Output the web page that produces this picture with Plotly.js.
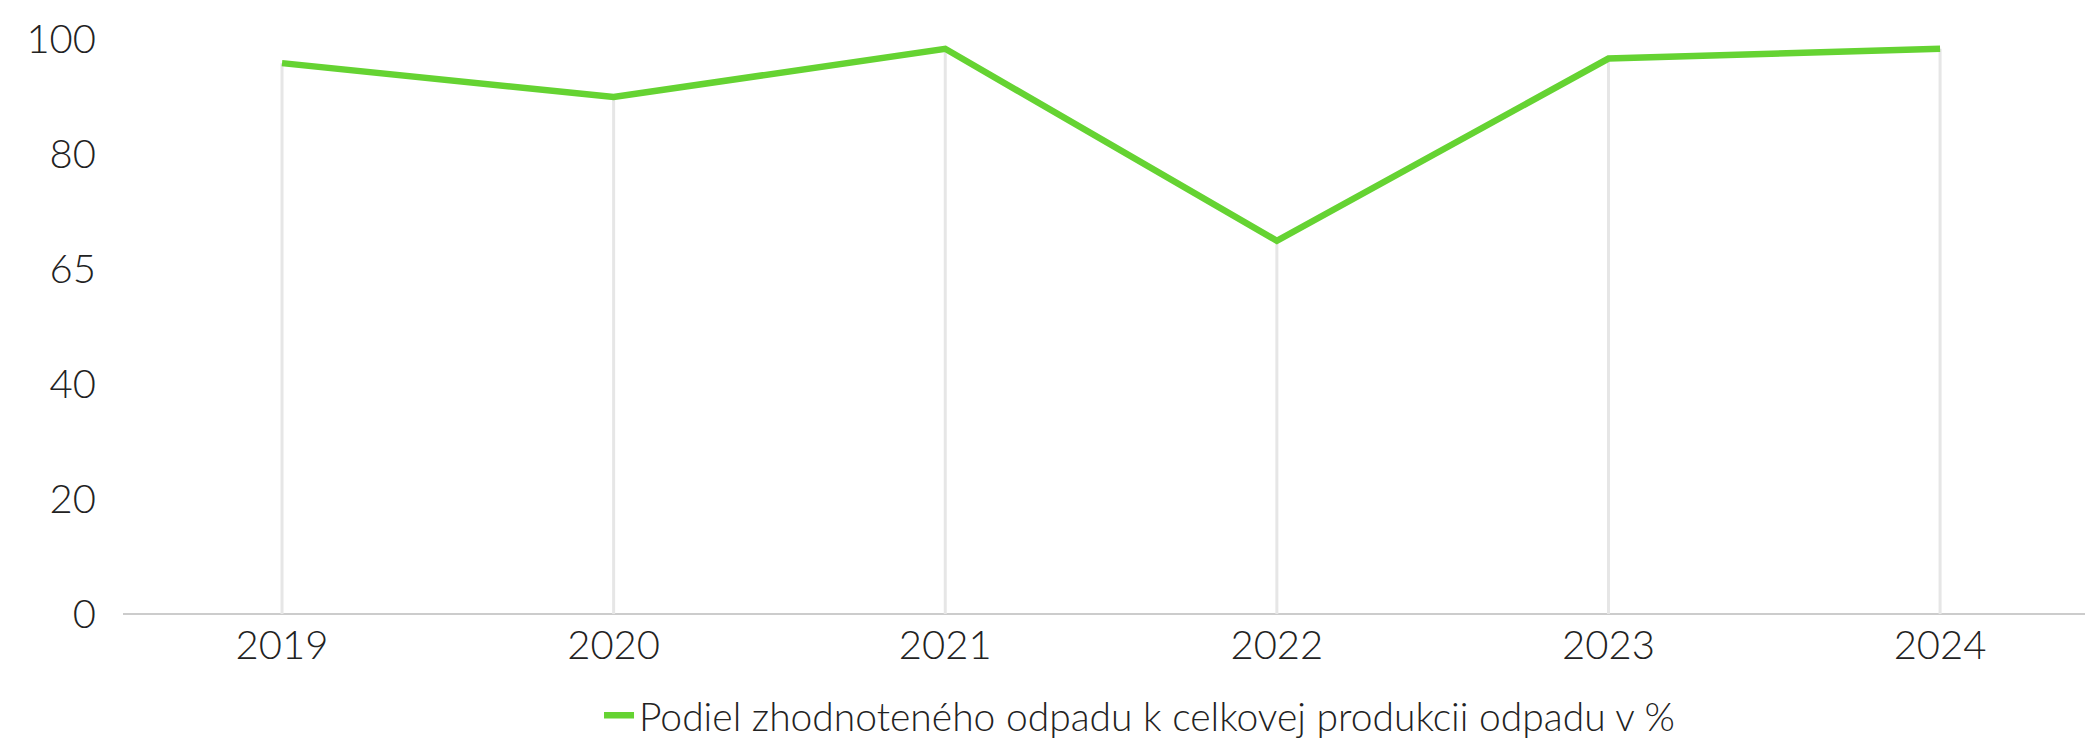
<!DOCTYPE html>
<html>
<head>
<meta charset="utf-8">
<script src="https://cdn.plot.ly/plotly-3.0.1.min.js"></script>
<style>
  html, body { margin: 0; padding: 0; background: #ffffff; }
  #chart { width: 2085px; height: 738px; }
</style>
</head>
<body>
<div id="chart"></div>
<script>
const years = ['2019', '2020', '2021', '2022', '2023', '2024'];
const share = [95.8, 89.9, 98.3, 64.9, 96.6, 98.3];
const seriesName = 'Podiel zhodnoteného odpadu k celkovej produkcii odpadu v %';
const yTickVals = [0, 20, 40, 60, 80, 100];
const yTickText = ['0', '20', '40', '65', '80', '100'];

const fontFamily = 'Lato, "Open Sans", sans-serif';

const dropLines = {
  x: years,
  y: share,
  type: 'scatter',
  mode: 'markers',
  marker: { size: 1, opacity: 0 },
  showlegend: false,
  hoverinfo: 'skip',
  error_y: {
    type: 'data',
    symmetric: false,
    array: share.map(() => 0),
    arrayminus: share,
    width: 0,
    thickness: 3,
    color: '#e6e6e6'
  }
};

const line = {
  x: years,
  y: share,
  type: 'scatter',
  mode: 'lines',
  name: seriesName,
  line: { color: '#65d332', width: 6.5 }
};

const layout = {
  width: 2085,
  height: 738,
  margin: { l: 123, r: 0, t: 10, b: 124 },
  paper_bgcolor: '#ffffff',
  plot_bgcolor: '#ffffff',
  font: { family: fontFamily, color: '#222222', size: 38, weight: 300 },
  showlegend: true,
  legend: {
    orientation: 'h',
    xref: 'container',
    yref: 'container',
    x: 0.2873,
    xanchor: 'left',
    y: 0.0305,
    yanchor: 'middle',
    font: { family: fontFamily, size: 39, color: '#222222', weight: 300 },
    bgcolor: 'rgba(0,0,0,0)'
  },
  xaxis: {
    type: 'category',
    range: [-0.4795, 5.437],
    showgrid: false,
    zeroline: false,
    showline: false,
    ticks: '',
    ticklabelstandoff: 4,
    tickfont: { family: fontFamily, size: 40, color: '#222222', weight: 300 },
    fixedrange: true
  },
  yaxis: {
    range: [0, 105.04],
    tickvals: yTickVals,
    ticktext: yTickText,
    showgrid: false,
    zeroline: true,
    zerolinecolor: '#cccccc',
    zerolinewidth: 1.5,
    showline: false,
    ticks: '',
    ticklabelstandoff: 26,
    tickfont: { family: fontFamily, size: 40, color: '#222222', weight: 300 },
    fixedrange: true
  }
};

Plotly.newPlot('chart', [dropLines, line], layout, { displayModeBar: false, staticPlot: true });
</script>
</body>
</html>
